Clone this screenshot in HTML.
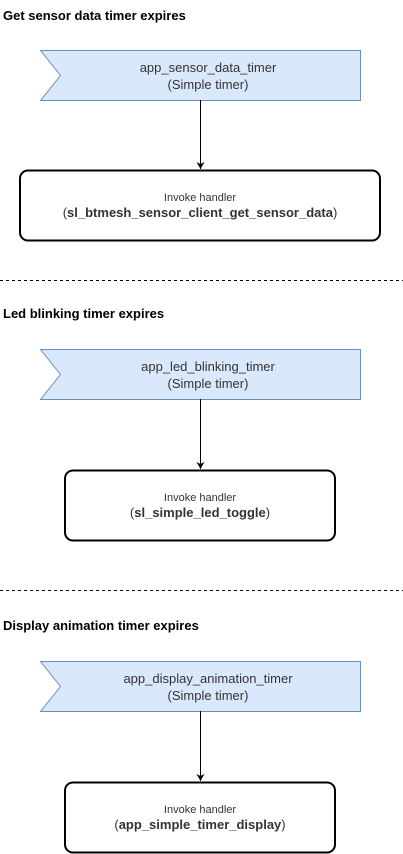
<!DOCTYPE html>
<html><head><style>
body{margin:0;width:403px;height:854px;background:#fff;overflow:hidden;font-family:"Liberation Sans",Arial,sans-serif}
svg{position:absolute;left:0;top:0}
</style></head><body>
<svg width="403" height="854" viewBox="0 0 403 854" font-family="Liberation Sans, Arial, sans-serif">
<defs><marker id="a" markerWidth="8" markerHeight="8" refX="7" refY="4" orient="auto" markerUnits="userSpaceOnUse"><path d="M0,0 L7,4 L0,8 L2,4 Z" fill="#000"/></marker></defs>
<g font-size="13" font-weight="bold" fill="#000">
<text x="3" y="20">Get sensor data timer expires</text>
<text x="3" y="318">Led blinking timer expires</text>
<text x="3" y="630">Display animation timer expires</text>
</g>
<g stroke="#000" stroke-dasharray="3,3" stroke-width="1">
<line x1="0" y1="280.5" x2="403" y2="280.5"/>
<line x1="0" y1="590.5" x2="403" y2="590.5"/>
</g>
<g fill="#dae8fc" stroke="#6c8ebf" stroke-width="1">
<path d="M40.5,50.5 H360.5 V100.5 H40.5 L60.5,75.5 Z"/>
<path d="M40.5,349.5 H360.5 V399.5 H40.5 L60.5,374.5 Z"/>
<path d="M40.5,661.5 H360.5 V711.5 H40.5 L60.5,686.5 Z"/>
</g>
<g stroke="#000" stroke-width="1">
<line x1="200.5" y1="100" x2="200.5" y2="169" marker-end="url(#a)"/>
<line x1="200.5" y1="399" x2="200.5" y2="469" marker-end="url(#a)"/>
<line x1="200.5" y1="711" x2="200.5" y2="781" marker-end="url(#a)"/>
</g>
<g fill="#fff" stroke="#000" stroke-width="2">
<rect x="20" y="170.5" width="360" height="70" rx="8"/>
<rect x="65" y="470.5" width="270" height="70" rx="8"/>
<rect x="65" y="782.5" width="270" height="70" rx="8"/>
</g>
<g font-size="13" fill="#333" text-anchor="middle">
<text x="208" y="72">app_sensor_data_timer</text><text x="208" y="89">(Simple timer)</text>
<text x="208" y="371">app_led_blinking_timer</text><text x="208" y="388">(Simple timer)</text>
<text x="208" y="683">app_display_animation_timer</text><text x="208" y="700">(Simple timer)</text>
</g>
<g fill="#333" text-anchor="middle">
<text x="200" y="201" font-size="11">Invoke handler</text>
<text x="200" y="217" font-size="13">(<tspan font-weight="bold">sl_btmesh_sensor_client_get_sensor_data</tspan>)</text>
<text x="200" y="501" font-size="11">Invoke handler</text>
<text x="200" y="517" font-size="13">(<tspan font-weight="bold">sl_simple_led_toggle</tspan>)</text>
<text x="200" y="813" font-size="11">Invoke handler</text>
<text x="200" y="829" font-size="13">(<tspan font-weight="bold">app_simple_timer_display</tspan>)</text>
</g>
</svg>
</body></html>
